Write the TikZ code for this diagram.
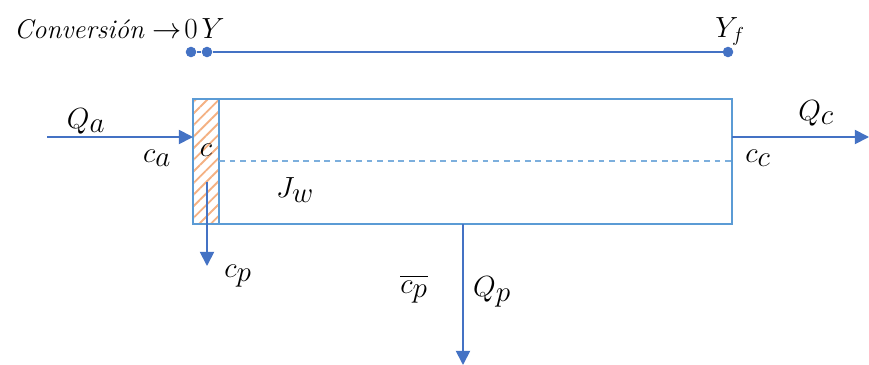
\documentclass[tikz,border=0pt]{standalone}
\usepackage{amsmath}
\usetikzlibrary{arrows.meta,positioning,patterns.meta}
\definecolor{boxBlue}{HTML}{5B9BD5}
\definecolor{arrBlue}{HTML}{4472C4}
\definecolor{hatchOrange}{HTML}{F4B183}
\begin{document}
\begin{tikzpicture}[x=0.03cm,y=-0.03cm,
  flow/.style={-{Triangle[length=12pt,width=12pt]},line width=1.5pt,color=arrBlue},
  wall/.style={draw=boxBlue,line width=1.8pt},
  lbl/.style={font=\fontsize{36}{42}\selectfont,inner sep=0pt},
  small/.style={font=\fontsize{23}{27}\selectfont,inner sep=0pt},
  dot/.style={circle,fill=arrBlue,inner sep=0pt,minimum size=9pt}
]
  \useasboundingbox (0,0) rectangle (869,365);
  % conversion axis
  \node[dot] (y0) at (191,52) {};
  \node[dot] (y1) at (207,52) {};
  \node[dot] (yf) at (728,52) {};
  \draw[arrBlue,line width=1.5pt] (y0) -- (y1) -- (yf);
  \node[small,anchor=base east] (conv) at (182,38) {\textit{Conversi\'on} $\rightarrow$};
  \node[small,anchor=base] (zero) at (191,38) {$0$};
  \node[small,anchor=base] (yl) at (213,38) {$Y$};
  \node[small,anchor=base] (yfl) at (730,37) {$Y_f$};
  % module
  \coordinate (nw) at (193,99);
  \coordinate (se) at (732,224);
  \coordinate (sw) at (219,99);
  \fill[pattern={Lines[angle=45,distance=7pt,line width=1.6pt]},pattern color=hatchOrange] (nw) rectangle (219,224);
  \draw[wall] (nw) rectangle (se);
  \draw[wall] (sw) -- (219,224);
  \draw[boxBlue!80,line width=1.2pt,dash pattern=on 5pt off 4pt] (219,161) -- (se |- 0,161);
  % streams
  \coordinate (feed) at (47,137);
  \coordinate (conc) at (869,137);
  \coordinate (perm) at (207,182);
  \coordinate (pout) at (207,266);
  \coordinate (ptop) at (463,224);
  \coordinate (pbot) at (463,365);
  \draw[flow] (feed) -- (feed -| nw);
  \draw[flow] (conc -| se) -- (conc);
  \draw[flow] (perm) -- (pout);
  \draw[flow] (ptop) -- (pbot);
  % labels
  \node[lbl] (qa) at (86,121) {$Q_a$};
  \node[lbl] (ca) at (157,158) {$c_a$};
  \node[lbl] (c) at (206,150) {$c$};
  \node[lbl] (jw) at (295,190) {$J_w$};
  \node[lbl] (cp) at (238,276) {$c_p$};
  \node[lbl] (cpm) at (414,289) {$\overline{c_p}$};
  \node[lbl] (qp) at (492,292) {$Q_p$};
  \node[lbl] (qc) at (816,113) {$Q_c$};
  \node[lbl] (cc) at (758,158) {$c_c$};
\end{tikzpicture}
\end{document}
